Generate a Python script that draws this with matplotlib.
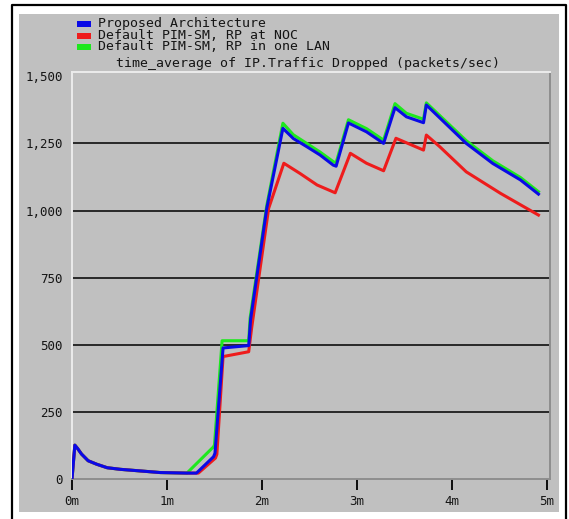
import matplotlib
matplotlib.use("Agg")
import matplotlib.pyplot as plt
from matplotlib.patches import Rectangle
from matplotlib.lines import Line2D

# values (time in minutes, packets/sec)
t_blue = [0, 0.03, 0.06, 0.10, 0.17, 0.26, 0.37, 0.51, 0.72, 0.93, 1.21, 1.31,
          1.49, 1.505, 1.59, 1.86, 1.88, 2.05, 2.22, 2.33, 2.47, 2.61, 2.75, 2.78,
          2.91, 3.10, 3.28, 3.40, 3.52, 3.70, 3.73, 4.15, 4.43, 4.72, 4.91]
v_blue = [0, 126, 113, 93, 68, 55, 42, 36, 30, 24, 22, 22,
          83, 96, 488, 497, 595, 1008, 1306, 1268, 1238, 1207, 1169, 1165,
          1326, 1293, 1250, 1383, 1349, 1327, 1393, 1250, 1175, 1114, 1061]

t_red = [0, 0.03, 0.06, 0.10, 0.17, 0.26, 0.37, 0.51, 0.72, 0.93, 1.21, 1.33,
         1.51, 1.525, 1.59, 1.86, 1.89, 2.07, 2.23, 2.40, 2.58, 2.77, 2.93,
         3.10, 3.28, 3.41, 3.70, 3.73, 3.87, 4.15, 4.51, 4.91]
v_red = [0, 126, 113, 93, 68, 55, 42, 36, 30, 24, 22, 22,
         78, 92, 456, 474, 560, 1008, 1176, 1138, 1095, 1066, 1213,
         1176, 1148, 1269, 1225, 1281, 1238, 1144, 1064, 983]

t_green = [0, 0.03, 0.06, 0.10, 0.17, 0.26, 0.37, 0.51, 0.72, 0.93, 1.21,
           1.49, 1.50, 1.58, 1.86, 1.875, 2.05, 2.22, 2.33, 2.47, 2.61, 2.75, 2.78,
           2.91, 3.10, 3.28, 3.40, 3.52, 3.70, 3.73, 4.15, 4.43, 4.72, 4.91]
v_green = [0, 126, 113, 93, 68, 55, 42, 36, 30, 24, 22,
           120, 128, 515, 515, 600, 1018, 1325, 1282, 1250, 1218, 1182, 1178,
           1338, 1305, 1262, 1398, 1362, 1340, 1401, 1260, 1185, 1123, 1070]

series_names = ["Proposed Architecture", "Default PIM-SM, RP at NOC",
                "Default PIM-SM, RP in one LAN"]
series_colors = ["#0a0ae6", "#ee1c1c", "#1ee81e"]
title = "time_average of IP.Traffic Dropped (packets/sec)"
y_ticks = [0, 250, 500, 750, 1000, 1250, 1500]
y_labels = ["0", "250", "500", "750", "1,000", "1,250", "1,500"]
x_ticks = [0, 1, 2, 3, 4, 5]
x_labels = ["0m", "1m", "2m", "3m", "4m", "5m"]

W, H = 569, 519
GRAY = "#c0c0c0"
FONT = "DejaVu Sans Mono"
TXT = "#151515"


def fx(px):
    return px / W


def fy(py):
    return 1 - py / H


fig = plt.figure(figsize=(W / 100, H / 100), dpi=100, facecolor="white")

# grey panel and black frame
fig.add_artist(Rectangle((fx(19), fy(512)), fx(559) - fx(19), fy(14) - fy(512),
                         transform=fig.transFigure, facecolor=GRAY,
                         edgecolor="none", zorder=0))
fig.add_artist(Line2D([fx(12), fx(12), fx(566), fx(566)],
                      [fy(519), fy(5), fy(5), fy(519)],
                      transform=fig.transFigure, color="black", lw=1.6))

ax = fig.add_axes([fx(72), fy(479), fx(550) - fx(72), fy(72) - fy(479)])
ax.set_facecolor(GRAY)
ax.set_xlim(0, 5 * (550 - 72) / (547 - 72))
ax.set_ylim(0, (479 - 72) / 0.2685)

for s in ("top", "left"):
    ax.spines[s].set_color("#ececec")
    ax.spines[s].set_linewidth(1.4)
for s in ("bottom", "right"):
    ax.spines[s].set_color("#8e8e8e")
    ax.spines[s].set_linewidth(1.4)

for v in y_ticks[1:-1]:
    ax.axhline(v, color="black", lw=1.1, zorder=1)

ax.plot(t_green, v_green, color=series_colors[2], lw=2.2, zorder=3)
ax.plot(t_red, v_red, color=series_colors[1], lw=2.2, zorder=4)
ax.plot(t_blue, v_blue, color=series_colors[0], lw=2.2, zorder=5)

ax.set_yticks(y_ticks)
ax.set_yticklabels(y_labels, fontfamily=FONT, fontsize=9, color=TXT)
ax.tick_params(axis="y", length=0, pad=6.5)
ax.set_xticks(x_ticks)
ax.set_xticklabels(x_labels, fontfamily=FONT, fontsize=9, color=TXT)
ax.tick_params(axis="x", direction="out", length=8, width=1.3, color="black",
               pad=3.5)

# legend block and title above the plot
rows = [24, 35.5, 47]
for name, col, row in zip(series_names, series_colors, rows):
    fig.add_artist(Rectangle((fx(77), fy(row + 3)), fx(91) - fx(77), fy(row - 3) - fy(row + 3),
                             transform=fig.transFigure, facecolor=col,
                             edgecolor="none"))
    fig.text(fx(98), fy(row), name, ha="left", va="center", fontfamily=FONT,
             fontsize=9.5, color=TXT)

fig.text(fx(307.5), fy(64), title, ha="center", va="center", fontfamily=FONT,
         fontsize=9.5, color=TXT)

fig.savefig("out.png", dpi=100, facecolor="white")
